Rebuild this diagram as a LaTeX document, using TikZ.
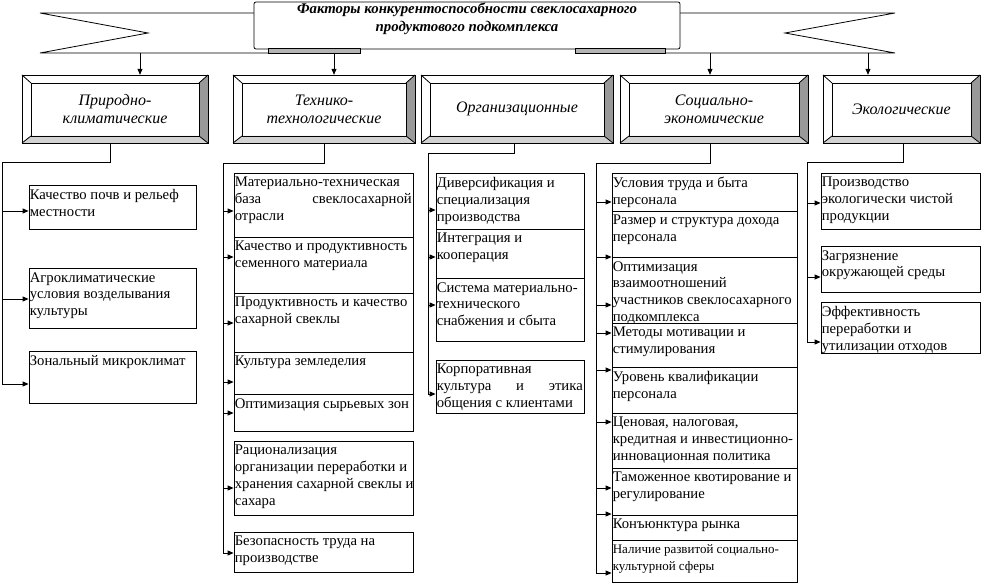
\documentclass[tikz,border=0pt]{standalone}
\usepackage{fontspec}
\setmainfont{Liberation Serif}
\usetikzlibrary{arrows.meta,fit}
\definecolor{bevR}{HTML}{999999}
\definecolor{bevB}{HTML}{D2D2D2}
\definecolor{tabgray}{HTML}{B4B4B4}
\tikzset{
  ln/.style={line width=0.8pt},
  arr/.style={ln,-{Triangle[length=6pt,width=5pt]}},
  itemtext/.style={anchor=north west, inner sep=0pt, align=left,
    font=\fontsize{14.7}{16.9}\selectfont},
  smalltext/.style={font=\fontsize{13}{17}\selectfont},
  cattext/.style={align=center, inner sep=0pt,
    font=\fontsize{16}{18}\selectfont\itshape},
  hdrtext/.style={align=center, inner sep=0pt,
    font=\fontsize{14.8}{18}\selectfont\bfseries\itshape}
}
% bevelled category box: name, x1, y1, x2, y2, text
\newcommand\bevbox[6]{%
  \fill[white] (#2,#3) rectangle (#4,#5);
  \fill[bevR] (#4,#3) -- (#4,#5) -- (#4-9,#5-7) -- (#4-9,#3+8) -- cycle;
  \fill[bevB] (#2,#5) -- (#4,#5) -- (#4-9,#5-7) -- (#2+9,#5-7) -- cycle;
  \draw[ln] (#2,#3) rectangle (#4,#5);
  \draw[ln] (#2+9,#3+8) rectangle (#4-9,#5-7);
  \draw[ln] (#2,#3) -- (#2+9,#3+8) (#4,#3) -- (#4-9,#3+8)
            (#2,#5) -- (#2+9,#5-7) (#4,#5) -- (#4-9,#5-7);
  \node[fit={(#2,#3)(#4,#5)}, inner sep=0pt] (#1) {};
  \node[cattext] (#1t) at (#1.center) {#6};
}
% item box: [extra text style] name, x1, y1, x2, y2, text
\newcommand\itembx[7][]{%
  \node[fit={(#3,#4)(#5,#6)}, inner sep=0pt, draw, ln] (#2) {};
  \node[itemtext,#1] (#2t) at ([xshift=1pt,yshift=-4.5pt]#2.north west) {#7};
}
% justified line of given width
\newcommand\jline[2]{\hbox to #1pt{#2}}
% feeder arrow: coordinate name, x, y, target node
\newcommand\feed[4]{%
  \coordinate (#1) at (#2,#3);
  \draw[arr] (#1) -- (#1 -| #4.west);
}
\begin{document}
\begin{tikzpicture}[x=1pt,y=-1pt]
\useasboundingbox[fill=white] (0,0) rectangle (983,585);

% ---------- header ribbon ----------
\draw[ln] (254,13) -- (40,13) -- (148,33) -- (40,53) -- (360,53);
\draw[ln] (680,13) -- (895,13) -- (785,33) -- (895,53) -- (575,53);
\filldraw[ln, fill=white, rounded corners=2pt] (254,2) rectangle (680,49);
\filldraw[ln, fill=tabgray] (268,48) rectangle (360,53);
\filldraw[ln, fill=tabgray] (575,48) rectangle (665,53);
\node[hdrtext] (hdr) at (467,19) {Факторы конкурентоспособности свеклосахарного\\продуктового подкомплекса};

% ---------- category boxes ----------
\bevbox{cat1}{22}{75}{208}{143}{Природно-\\климатические}
\bevbox{cat2}{233}{75}{415}{143}{Технико-\\технологические}
\bevbox{cat3}{421}{75}{613}{143}{Организационные}
\bevbox{cat4}{620}{75}{808}{143}{Социально-\\экономические}
\bevbox{cat5}{823}{75}{980}{143}{Экологические}

\coordinate (h1) at (140,53);
\coordinate (h2) at (334,53);
\coordinate (h4) at (710,53);
\coordinate (h5) at (868,53);
\draw[arr] (h1) -- (h1 |- cat1.north);
\draw[arr] (h2) -- (h2 |- cat2.north);
\draw[arr] (h4) -- (h4 |- cat4.north);
\draw[arr] (h5) -- (h5 |- cat5.north);

% ---------- column 1 ----------
\itembx{a11}{29}{185}{196}{229}{Качество почв и рельеф\\местности}
\itembx{a12}{29}{268}{196}{328}{Агроклиматические\\условия возделывания\\культуры}
\itembx{a13}{29}{351}{196}{403}{Зональный микроклимат}
\coordinate (k1) at (110,162);
\coordinate (s1) at (2,162);
\coordinate (e1) at (2,384);
\draw[ln] (k1 |- cat1.south) -- (k1) -- (s1) -- (e1);
\feed{p11}{2}{211}{a11}
\feed{p12}{2}{299}{a12}
\feed{p13}{2}{384}{a13}

% ---------- column 2 ----------
\itembx{a21}{234}{173}{413}{237}{Материально-техническая\\\jline{177}{база\hfill свеклосахарной}\\отрасли}
\itembx{a22}{234}{237}{413}{293}{Качество и продуктивность\\семенного материала}
\itembx{a23}{234}{293}{413}{352}{Продуктивность и качество\\сахарной свеклы}
\itembx{a24}{234}{352}{413}{394}{Культура земледелия}
\itembx{a25}{234}{394}{413}{431}{Оптимизация сырьевых зон}
\itembx{a26}{234}{441}{413}{515}{Рационализация\\организации переработки и\\хранения сахарной свеклы и\\сахара}
\itembx{a27}{234}{532}{413}{572}{Безопасность труда на\\производстве}
\coordinate (k2) at (324,163);
\coordinate (s2) at (223,163);
\coordinate (e2) at (223,553);
\draw[ln] (k2 |- cat2.south) -- (k2) -- (s2) -- (e2);
\feed{p21}{223}{211}{a21}
\feed{p22}{223}{257}{a22}
\feed{p23}{223}{323}{a23}
\feed{p24}{223}{382}{a24}
\feed{p25}{223}{413}{a25}
\feed{p26}{223}{488}{a26}
\feed{p27}{223}{553}{a27}

% ---------- column 3 ----------
\itembx{a31}{436}{173}{584}{229}{Диверсификация и\\специализация\\производства}
\itembx{a32}{436}{229}{584}{278}{Интеграция и\\кооперация}
\itembx{a33}{436}{278}{584}{341}{Система материально-\\технического\\снабжения и сбыта}
\itembx{a34}{436}{360}{584}{413}{Корпоративная\\\jline{146}{культура\hfill и\hfill этика}\\общения с клиентами}
\coordinate (k3) at (514,153);
\coordinate (s3) at (428,153);
\coordinate (e3) at (428,394);
\draw[ln] (k3 |- cat3.south) -- (k3) -- (s3) -- (e3);
\feed{p31}{428}{210}{a31}
\feed{p32}{428}{257}{a32}
\feed{p33}{428}{305}{a33}
\feed{p34}{428}{394}{a34}

% ---------- column 4 ----------
\itembx{a41}{612}{173}{797}{211}{Условия труда и быта\\персонала}
\itembx{a42}{612}{211}{797}{257}{Размер и структура дохода\\персонала}
\itembx{a43}{612}{257}{797}{323}{Оптимизация\\взаимоотношений\\участников свеклосахарного\\подкомплекса}
\itembx{a44}{612}{323}{797}{367}{Методы мотивации и\\стимулирования}
\itembx{a45}{612}{367}{797}{413}{Уровень квалификации\\персонала}
\itembx{a46}{612}{413}{797}{468}{Ценовая, налоговая,\\кредитная и инвестиционно-\\инновационная политика}
\itembx{a47}{612}{468}{797}{515}{Таможенное квотирование и\\регулирование}
\itembx{a48}{612}{515}{797}{540}{Конъюнктура рынка}
\itembx[smalltext]{a49}{612}{540}{797}{582}{Наличие развитой социально-\\культурной сферы}
\coordinate (k4) at (710,163);
\coordinate (s4) at (596,163);
\coordinate (e4) at (596,573);
\draw[ln] (k4 |- cat4.south) -- (k4) -- (s4) -- (e4);
\feed{p41}{596}{202}{a41}
\feed{p42}{596}{257}{a42}
\feed{p43}{596}{305}{a43}
\feed{p44}{596}{333}{a44}
\feed{p45}{596}{370}{a45}
\feed{p46}{596}{422}{a46}
\feed{p47}{596}{488}{a47}
\feed{p48}{596}{514}{a48}
\feed{p49}{596}{573}{a49}

% ---------- column 5 ----------
\itembx{a51}{821}{173}{980}{229}{Производство\\экологически чистой\\продукции}
\itembx{a52}{821}{246}{980}{292}{Загрязнение\\окружающей среды}
\itembx{a53}{821}{302}{980}{353}{Эффективность\\переработки и\\утилизации отходов}
\coordinate (k5) at (903,162);
\coordinate (s5) at (807,162);
\coordinate (e5) at (807,342);
\draw[ln] (k5 |- cat5.south) -- (k5) -- (s5) -- (e5);
\feed{p51}{807}{203}{a51}
\feed{p52}{807}{277}{a52}
\feed{p53}{807}{342}{a53}
\end{tikzpicture}
\end{document}
